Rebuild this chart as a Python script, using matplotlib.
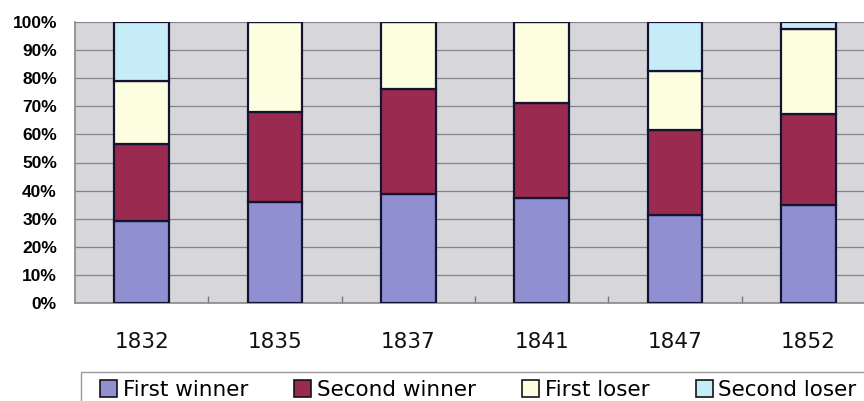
import matplotlib.pyplot as plt
from matplotlib.patches import Patch, Rectangle
import numpy as np

years = ['1832', '1835', '1837', '1841', '1847', '1852']
series = ['First winner', 'Second winner', 'First loser', 'Second loser']
first_winner = [29.3, 35.9, 38.8, 37.4, 31.3, 34.9]
second_winner = [27.3, 31.9, 37.4, 33.8, 30.4, 32.5]
first_loser = [22.5, 32.2, 23.8, 28.8, 21.0, 30.1]
second_loser = [20.9, 0.0, 0.0, 0.0, 17.3, 2.5]
colors = ['#8f8fd2', '#9a2a50', '#fdfde0', '#c6ecf8']

fig = plt.figure(figsize=(8.64, 4.01), dpi=100)
ax = fig.add_axes([75 / 864, 98 / 401, 800 / 864, 281 / 401])
ax.set_facecolor('#d7d7db')

x = np.arange(len(years))
bottom = np.zeros(len(years))
for vals, col in zip([first_winner, second_winner, first_loser, second_loser], colors):
    vals = np.array(vals)
    ax.bar(x, vals, 0.41, bottom=bottom, color=col, edgecolor='#141432',
           linewidth=1.6, zorder=3)
    bottom += vals

ax.set_xlim(-0.5, 5.5)
ax.set_ylim(0, 100)
ax.set_yticks(np.arange(0, 101, 10))
ax.set_yticklabels([f'{v}%' for v in range(0, 101, 10)],
                   fontfamily='Liberation Sans', fontweight='bold', fontsize=12.5)
ax.yaxis.grid(True, color='#858585', linewidth=0.9, zorder=1)
ax.tick_params(axis='y', length=0, pad=13)

# category labels and boundary ticks
ax.set_xticks(x)
ax.set_xticklabels(years, fontsize=15.5, color='#111111')
ax.tick_params(axis='x', length=0, pad=21)
ax.set_xticks(np.arange(0.5, 5.5, 1), minor=True)
ax.tick_params(axis='x', which='minor', direction='in', length=5,
               color='#777777', width=1)

for side in ['top', 'right']:
    ax.spines[side].set_visible(False)
for side in ['left', 'bottom']:
    ax.spines[side].set_color('#888888')
    ax.spines[side].set_linewidth(1.2)

# legend box runs off the right and bottom edges, like the scan
fig.add_artist(Rectangle((81 / 864, -0.1), 1.0, 29 / 401 + 0.1,
                         transform=fig.transFigure, fill=False,
                         edgecolor='#999999', linewidth=1.0))

handles = [Patch(facecolor=c, edgecolor='#141414', linewidth=1.2) for c in colors]
leg = fig.legend(handles, series, loc='upper left', ncol=4,
                 bbox_to_anchor=(100 / 864, 1 - 380 / 401),
                 fontsize=15.5, frameon=False, borderpad=0,
                 handlelength=0.8, handleheight=0.8, handletextpad=0.25,
                 columnspacing=2.15, borderaxespad=0)

fig.savefig('out.png', dpi=100)
